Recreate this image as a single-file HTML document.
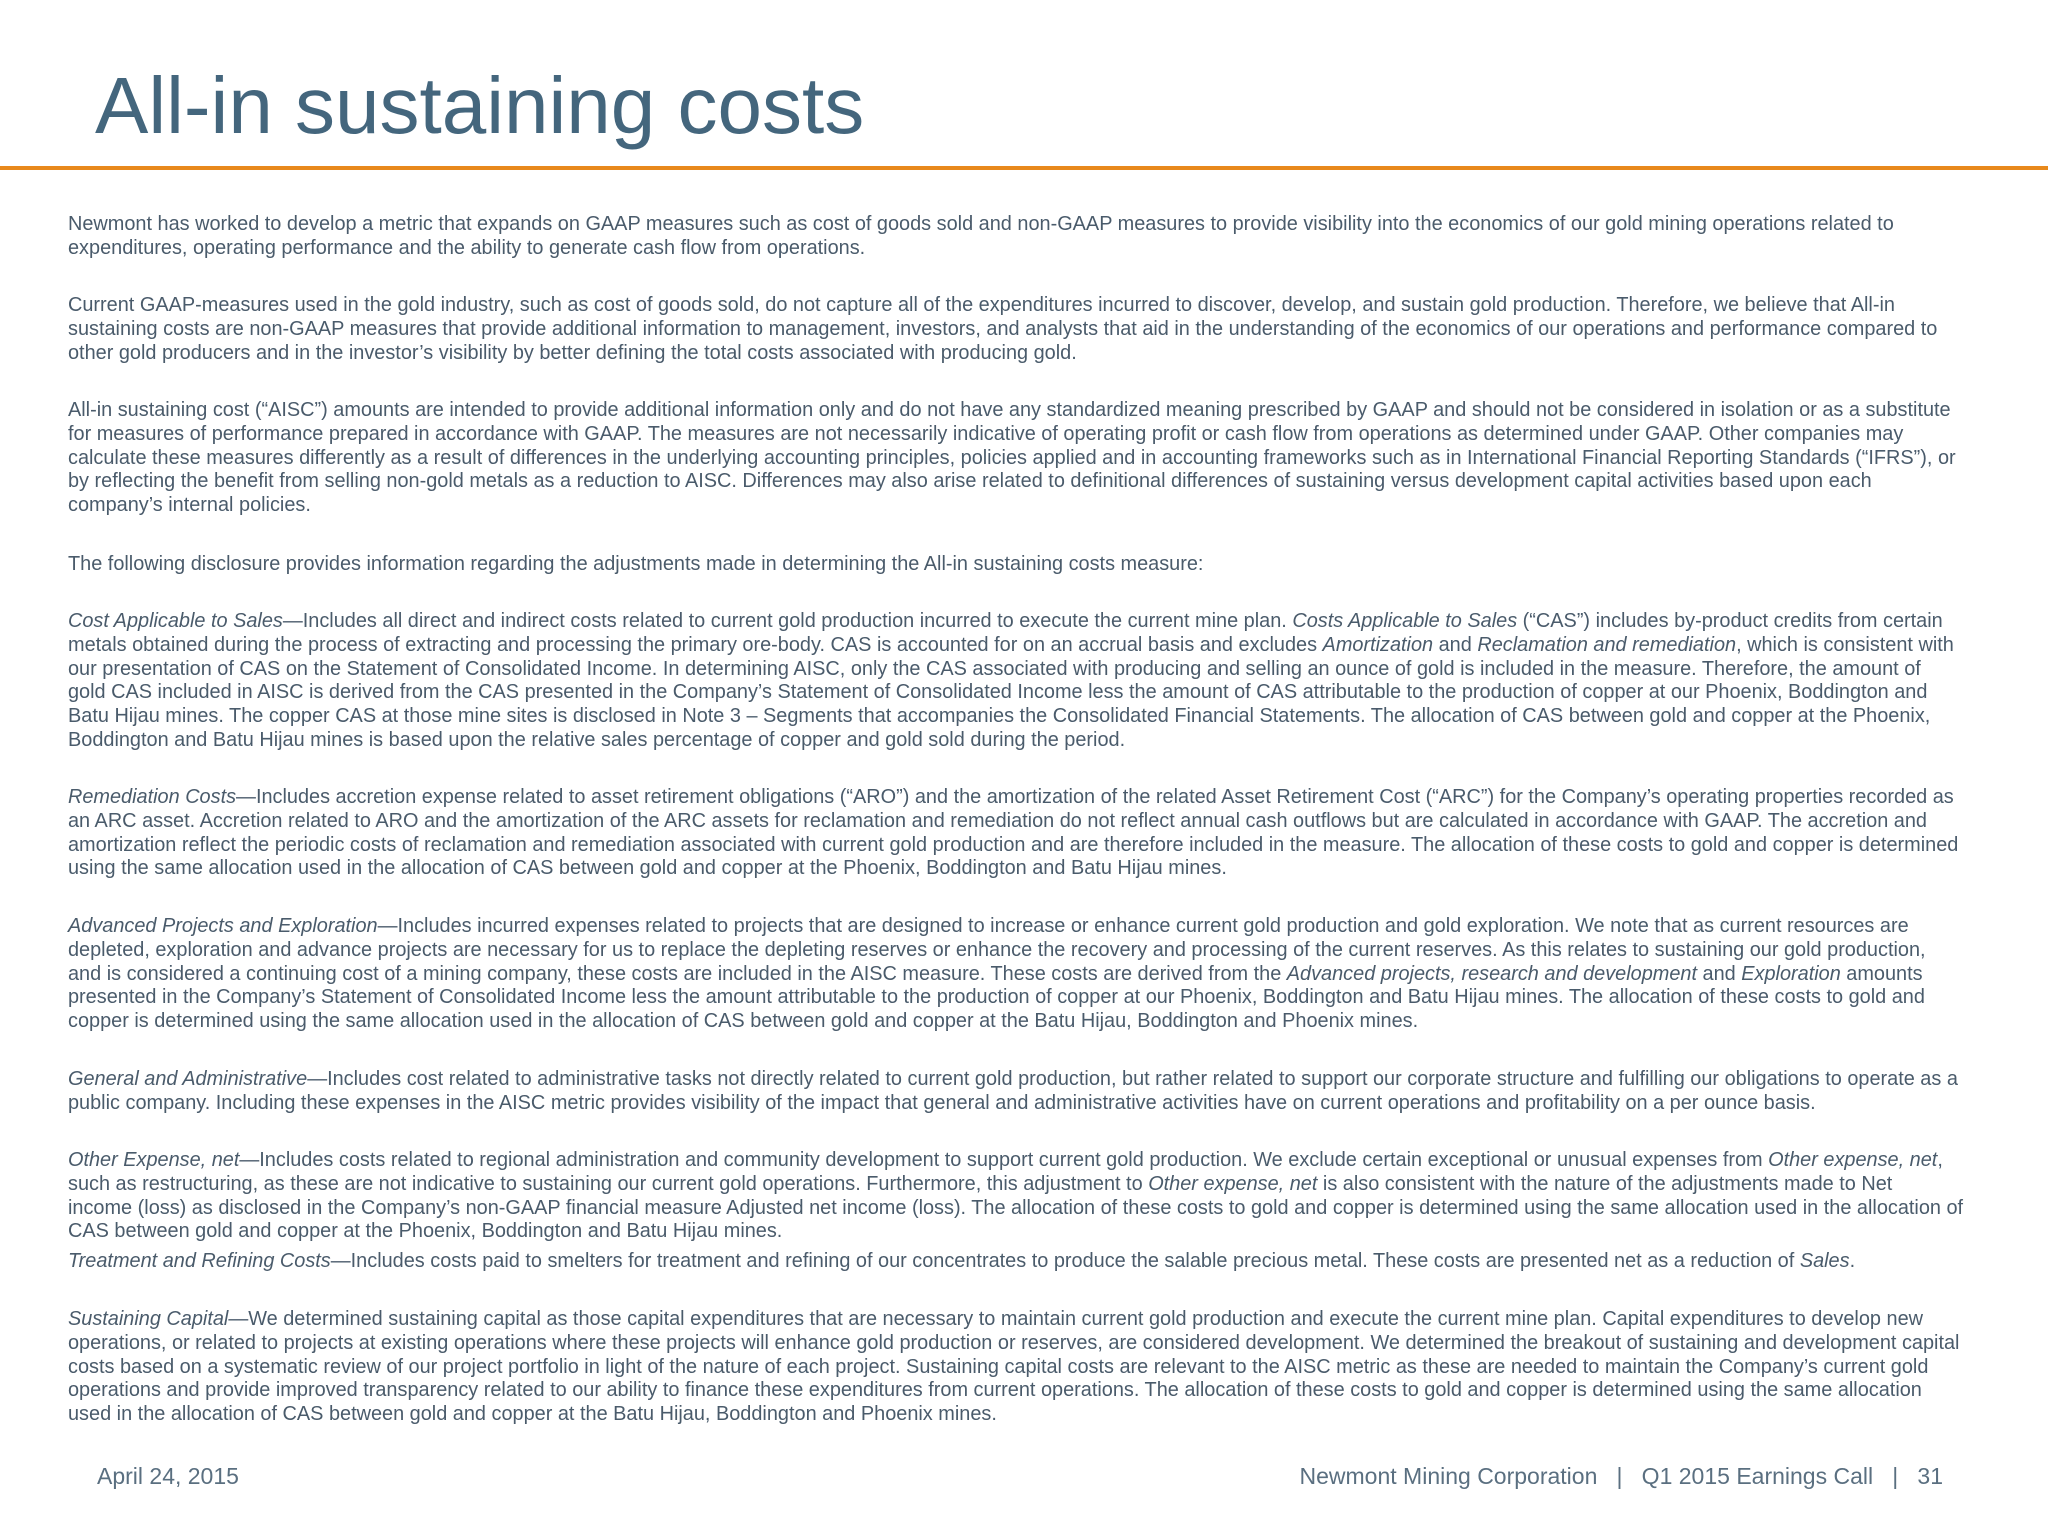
<!DOCTYPE html>
<html><head><meta charset="utf-8">
<style>
html,body{margin:0;padding:0;background:#fff;}
body{width:2048px;height:1536px;position:relative;overflow:hidden;font-family:"Liberation Sans",Arial,sans-serif;}
#title{position:absolute;left:95px;top:62px;font-size:80px;color:#44667d;margin:0;font-weight:normal;line-height:1.1;}
#rule{position:absolute;left:0;top:166px;width:2048px;height:4px;background:#e8891c;}
.p{position:absolute;left:68px;width:1990px;font-size:19.9px;line-height:23.8px;color:#4a5b6b;white-space:nowrap;margin:0;}
.foot{position:absolute;top:1463px;font-size:23px;color:#5a6f80;white-space:nowrap;}
</style></head>
<body>
<h1 id="title">All-in sustaining costs</h1>
<div id="rule"></div>

<p class="p" style="top:213px">Newmont has worked to develop a metric that expands on GAAP measures such as cost of goods sold and non-GAAP measures to provide visibility into the economics of our gold mining operations related to<br>expenditures, operating performance and the ability to generate cash flow from operations.</p>

<p class="p" style="top:294px">Current GAAP-measures used in the gold industry, such as cost of goods sold, do not capture all of the expenditures incurred to discover, develop, and sustain gold production. Therefore, we believe that All-in<br>sustaining costs are non-GAAP measures that provide additional information to management, investors, and analysts that aid in the understanding of the economics of our operations and performance compared to<br>other gold producers and in the investor’s visibility by better defining the total costs associated with producing gold.</p>

<p class="p" style="top:399px">All-in sustaining cost (“AISC”) amounts are intended to provide additional information only and do not have any standardized meaning prescribed by GAAP and should not be considered in isolation or as a substitute<br>for measures of performance prepared in accordance with GAAP. The measures are not necessarily indicative of operating profit or cash flow from operations as determined under GAAP. Other companies may<br>calculate these measures differently as a result of differences in the underlying accounting principles, policies applied and in accounting frameworks such as in International Financial Reporting Standards (“IFRS”), or<br>by reflecting the benefit from selling non-gold metals as a reduction to AISC. Differences may also arise related to definitional differences of sustaining versus development capital activities based upon each<br>company’s internal policies.</p>

<p class="p" style="top:553px">The following disclosure provides information regarding the adjustments made in determining the All-in sustaining costs measure:</p>

<p class="p" style="top:610px"><i>Cost Applicable to Sales</i>—Includes all direct and indirect costs related to current gold production incurred to execute the current mine plan. <i>Costs Applicable to Sales</i> (“CAS”) includes by-product credits from certain<br>metals obtained during the process of extracting and processing the primary ore-body. CAS is accounted for on an accrual basis and excludes <i>Amortization</i> and <i>Reclamation and remediation</i>, which is consistent with<br>our presentation of CAS on the Statement of Consolidated Income. In determining AISC, only the CAS associated with producing and selling an ounce of gold is included in the measure. Therefore, the amount of<br>gold CAS included in AISC is derived from the CAS presented in the Company’s Statement of Consolidated Income less the amount of CAS attributable to the production of copper at our Phoenix, Boddington and<br>Batu Hijau mines. The copper CAS at those mine sites is disclosed in Note 3 – Segments that accompanies the Consolidated Financial Statements. The allocation of CAS between gold and copper at the Phoenix,<br>Boddington and Batu Hijau mines is based upon the relative sales percentage of copper and gold sold during the period.</p>

<p class="p" style="top:786px"><i>Remediation Costs</i>—Includes accretion expense related to asset retirement obligations (“ARO”) and the amortization of the related Asset Retirement Cost (“ARC”) for the Company’s operating properties recorded as<br>an ARC asset. Accretion related to ARO and the amortization of the ARC assets for reclamation and remediation do not reflect annual cash outflows but are calculated in accordance with GAAP. The accretion and<br>amortization reflect the periodic costs of reclamation and remediation associated with current gold production and are therefore included in the measure. The allocation of these costs to gold and copper is determined<br>using the same allocation used in the allocation of CAS between gold and copper at the Phoenix, Boddington and Batu Hijau mines.</p>

<p class="p" style="top:915px"><i>Advanced Projects and Exploration</i>—Includes incurred expenses related to projects that are designed to increase or enhance current gold production and gold exploration. We note that as current resources are<br>depleted, exploration and advance projects are necessary for us to replace the depleting reserves or enhance the recovery and processing of the current reserves. As this relates to sustaining our gold production,<br>and is considered a continuing cost of a mining company, these costs are included in the AISC measure. These costs are derived from the <i>Advanced projects, research and development</i> and <i>Exploration</i> amounts<br>presented in the Company’s Statement of Consolidated Income less the amount attributable to the production of copper at our Phoenix, Boddington and Batu Hijau mines. The allocation of these costs to gold and<br>copper is determined using the same allocation used in the allocation of CAS between gold and copper at the Batu Hijau, Boddington and Phoenix mines.</p>

<p class="p" style="top:1068px"><i>General and Administrative</i>—Includes cost related to administrative tasks not directly related to current gold production, but rather related to support our corporate structure and fulfilling our obligations to operate as a<br>public company. Including these expenses in the AISC metric provides visibility of the impact that general and administrative activities have on current operations and profitability on a per ounce basis.</p>

<p class="p" style="top:1149px"><i>Other Expense, net</i>—Includes costs related to regional administration and community development to support current gold production. We exclude certain exceptional or unusual expenses from <i>Other expense, net</i>,<br>such as restructuring, as these are not indicative to sustaining our current gold operations. Furthermore, this adjustment to <i>Other expense, net</i> is also consistent with the nature of the adjustments made to Net<br>income (loss) as disclosed in the Company’s non-GAAP financial measure Adjusted net income (loss). The allocation of these costs to gold and copper is determined using the same allocation used in the allocation of<br>CAS between gold and copper at the Phoenix, Boddington and Batu Hijau mines.</p>

<p class="p" style="top:1250px"><i>Treatment and Refining Costs</i>—Includes costs paid to smelters for treatment and refining of our concentrates to produce the salable precious metal. These costs are presented net as a reduction of <i>Sales</i>.</p>

<p class="p" style="top:1308px"><i>Sustaining Capital</i>—We determined sustaining capital as those capital expenditures that are necessary to maintain current gold production and execute the current mine plan. Capital expenditures to develop new<br>operations, or related to projects at existing operations where these projects will enhance gold production or reserves, are considered development. We determined the breakout of sustaining and development capital<br>costs based on a systematic review of our project portfolio in light of the nature of each project. Sustaining capital costs are relevant to the AISC metric as these are needed to maintain the Company’s current gold<br>operations and provide improved transparency related to our ability to finance these expenditures from current operations. The allocation of these costs to gold and copper is determined using the same allocation<br>used in the allocation of CAS between gold and copper at the Batu Hijau, Boddington and Phoenix mines.</p>

<div class="foot" style="left:97px">April 24, 2015</div>
<div class="foot" style="right:105px">Newmont Mining Corporation &nbsp; | &nbsp; Q1 2015 Earnings Call &nbsp; | &nbsp; 31</div>
</body></html>
